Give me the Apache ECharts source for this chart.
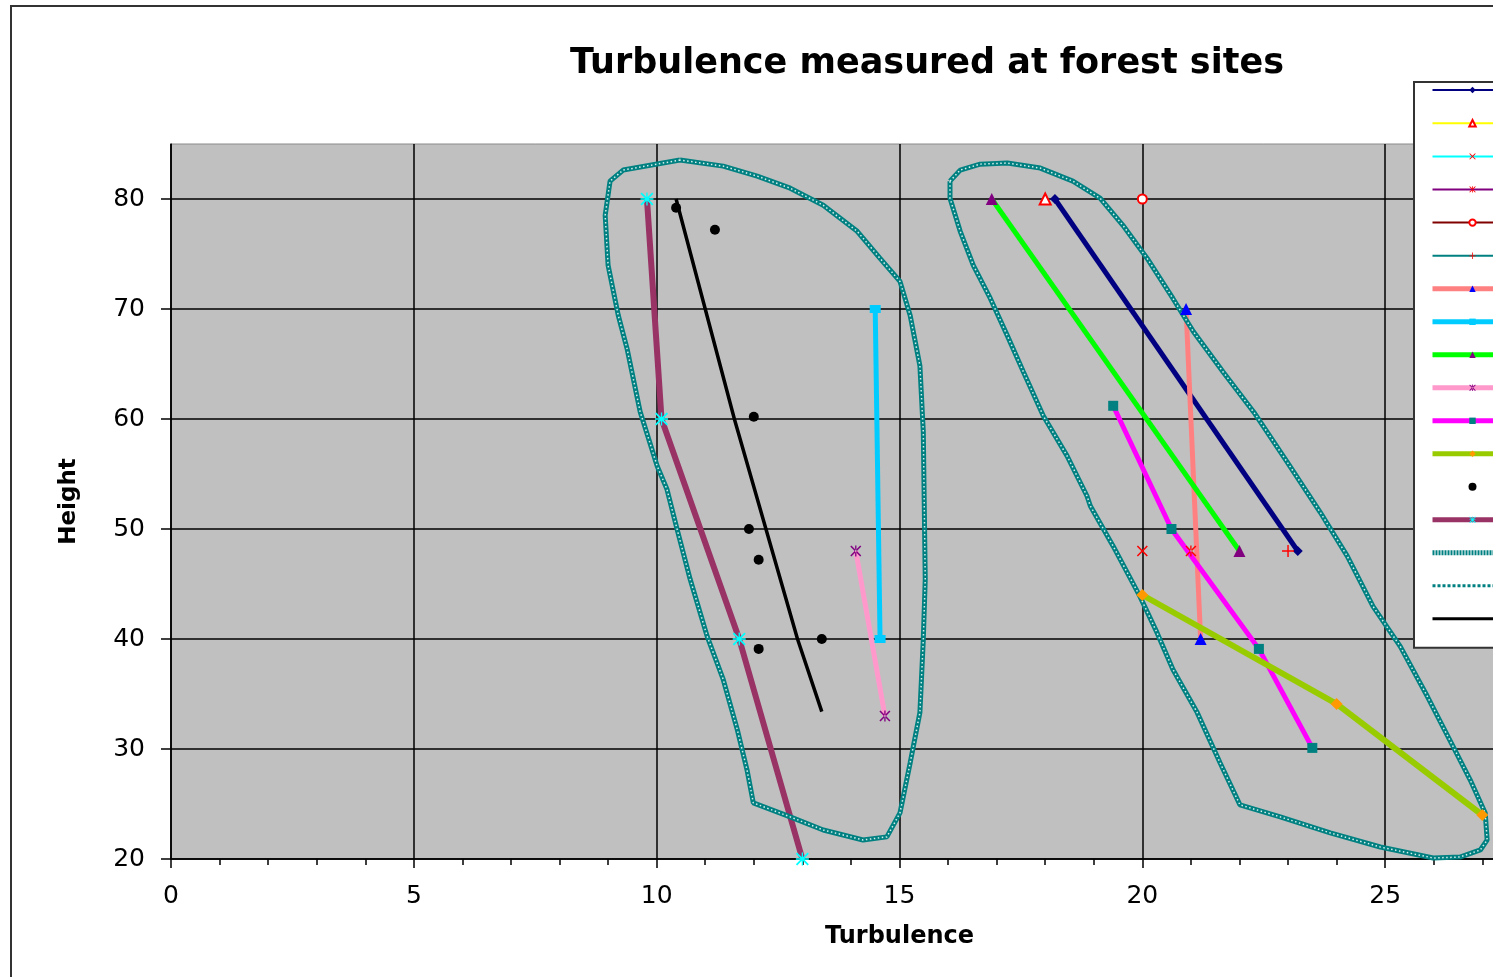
<!DOCTYPE html>
<html>
<head>
<meta charset="utf-8">
<title>Turbulence measured at forest sites</title>
<script src="https://cdn.jsdelivr.net/npm/echarts@6/dist/echarts.min.js"></script>
<style>
  html, body { margin: 0; padding: 0; overflow: hidden; background: #fff; }
  #frame { position: absolute; left: 10px; top: 5px; width: 1800px; height: 1200px; border: 2px solid #333; }
  #chart { position: absolute; left: 0; top: 0; width: 1720px; height: 1000px; }
</style>
</head>
<body>
<div id="frame"></div>
<div id="chart"></div>
<script>
// axis ticks
const xTicks = [0, 5, 10, 15, 20, 25, 30];
const yTicks = [20, 30, 40, 50, 60, 70, 80];

// series names (legend text is cut off in the picture)
const names = ['Site 1', 'Site 2', 'Site 3', 'Site 4', 'Site 5', 'Site 6', 'Site 7', 'Site 8',
  'Site 9', 'Site 10', 'Site 11', 'Site 12', 'Site 13', 'Site 14', 'Site 15', 'Site 16', 'Site 17'];

// [turbulence, height]
const s1 = [[18.2, 80], [23.2, 48]];
const s2 = [[18, 80]];
const s3 = [[20, 48]];
const s4 = [[21, 48]];
const s5 = [[20, 80]];
const s6 = [[23, 48]];
const s7 = [[20.9, 70], [21.2, 40]];
const s8 = [[14.5, 70], [14.6, 40]];
const s9 = [[16.9, 80], [22, 48]];
const s10 = [[14.1, 48], [14.7, 33]];
const s11 = [[19.4, 61.2], [20.6, 50], [22.4, 39.1], [23.5, 30.1]];
const s12 = [[20, 44], [24, 34.1], [27, 24]];
const s13 = [[10.4, 79.2], [11.2, 77.2], [12, 60.2], [11.9, 50], [12.1, 47.2], [13.4, 40], [12.1, 39.1]];
const s14 = [[9.8, 80], [10.1, 60], [11.7, 40], [13, 20]];
// envelope around the left group
const s15 = [[10.48, 83.54], [9.31, 82.63], [9.04, 81.62], [8.94, 78.52], [9.0, 73.97], [9.21, 69.41],
  [9.39, 66.4], [9.66, 60.66], [10.01, 55.73], [10.21, 53.64], [10.42, 49.99], [10.69, 45.43],
  [11.04, 40.24], [11.37, 36.32], [11.66, 31.76], [11.86, 28.11], [11.99, 25.1], [12.75, 23.83],
  [13.43, 22.64], [14.25, 21.73], [14.74, 22.01], [15.01, 24.19], [15.22, 28.75], [15.42, 33.31],
  [15.49, 39.96], [15.53, 45.43], [15.49, 58.83], [15.42, 64.85], [15.22, 69.41], [15.01, 72.51],
  [14.6, 74.6], [14.13, 77.06], [13.43, 79.43], [12.75, 80.98], [12.07, 82.08], [11.37, 82.99],
  [10.48, 83.54]];
// envelope around the right group
const s16 = [[16.04, 81.62], [16.25, 82.63], [16.66, 83.17], [17.22, 83.27], [17.9, 82.81], [18.57, 81.62],
  [19.13, 80.07], [19.6, 77.61], [20.1, 74.6], [20.63, 70.96], [21.05, 67.95], [21.66, 64.3],
  [22.32, 60.47], [22.98, 56.1], [23.66, 51.54], [24.22, 47.53], [24.75, 42.97], [25.31, 39.33],
  [25.87, 34.77], [26.4, 30.21], [26.75, 27.2], [27.06, 24.19], [27.1, 21.73], [26.96, 20.82],
  [26.54, 20.18], [25.99, 20.09], [24.9, 21.09], [23.87, 22.37], [22.84, 23.83], [22.01, 24.92],
  [21.6, 28.75], [21.13, 33.31], [20.63, 37.23], [20.3, 40.6], [19.95, 43.88], [19.4, 48.44],
  [18.93, 52.09], [18.86, 53.0], [18.45, 56.65], [17.96, 60.29], [17.55, 64.3], [17.22, 67.58],
  [16.87, 70.96], [16.52, 73.97], [16.25, 77.06], [16.04, 80.07], [16.04, 81.62]];
const s17 = [[10.4, 80], [11.6, 60], [12.9, 40], [13.4, 33.4]];

const X_MARK = 'path://M0,1L1,0L5,4L9,0L10,1L6,5L10,9L9,10L5,6L1,10L0,9L4,5Z';
const PLUS_MARK = 'path://M4.4,0H5.6V4.4H10V5.6H5.6V10H4.4V5.6H0V4.4H4.4Z';
const STAR_MARK = 'path://M0,1L1,0L5,4L9,0L10,1L6,5L10,9L9,10L5,6L1,10L0,9L4,5ZM4.4,10H5.6V0H4.4Z';
const STAR8_MARK = 'path://M0,1L1,0L5,4L9,0L10,1L6,5L10,9L9,10L5,6L1,10L0,9L4,5ZM4.5,0H5.5V4.5H10V5.5H5.5V10H4.5V5.5H0V4.5H4.5Z';

function lineSeries(name, data, color, width, symbol, symbolSize, markColor, extra) {
  return Object.assign({
    name: name,
    type: 'line',
    data: data,
    symbol: symbol,
    symbolSize: symbolSize,
    showAllSymbol: true,
    lineStyle: { color: color, width: width },
    itemStyle: { color: markColor, borderColor: markColor, borderWidth: 0 },
    emphasis: { disabled: true },
    animation: false
  }, extra || {});
}

const chart = echarts.init(document.getElementById('chart'));

const series = [
  lineSeries(names[0], s1, '#000080', 5, 'diamond', 10, '#000080'),
  lineSeries(names[1], s2, '#FFFF00', 2, 'emptyTriangle', 11, '#FF0000', { itemStyle: { color: '#FF0000', borderWidth: 1.5 } }),
  lineSeries(names[2], s3, '#00FFFF', 2, X_MARK, 11, '#FF0000'),
  lineSeries(names[3], s4, '#800080', 2, STAR_MARK, 11, '#FF0000'),
  lineSeries(names[4], s5, '#800000', 2, 'emptyCircle', 9, '#FF0000', { itemStyle: { color: '#FF0000', borderWidth: 1.5 } }),
  lineSeries(names[5], s6, '#008080', 2, PLUS_MARK, 12, '#FF0000'),
  lineSeries(names[6], s7, '#FF8080', 5, 'triangle', 12, '#0000FF'),
  lineSeries(names[7], s8, '#00CCFF', 5, 'rect', [11, 8], '#00CCFF'),
  lineSeries(names[8], s9, '#00FF00', 5, 'triangle', 12, '#800080'),
  lineSeries(names[9], s10, '#FF99CC', 5, STAR_MARK, 11, '#800080'),
  lineSeries(names[10], s11, '#FF00FF', 5, 'rect', 10, '#008080'),
  lineSeries(names[11], s12, '#99CC00', 6, 'diamond', 12, '#FF9900'),
  {
    name: names[12], type: 'scatter', data: s13, symbol: 'circle', symbolSize: 10,
    itemStyle: { color: '#000000', opacity: 1 }, emphasis: { disabled: true }, animation: false
  },
  lineSeries(names[13], s14, '#993366', 6, STAR8_MARK, 13, '#00FFFF'),
  lineSeries(names[14], s15, '#008080', 5, 'none', 0, '#008080'),
  {
    name: 'edge15', type: 'line', data: s15, symbol: 'none', silent: true, animation: false,
    lineStyle: { color: 'rgba(225,245,245,0.95)', width: 1.5, type: [1.5, 2.5] }
  },
  lineSeries(names[15], s16, '#008080', 5, 'none', 0, '#008080'),
  {
    name: 'edge16', type: 'line', data: s16, symbol: 'none', silent: true, animation: false,
    lineStyle: { color: 'rgba(225,245,245,0.95)', width: 1.5, type: [1.5, 2.5] }
  },
  lineSeries(names[16], s17, '#000000', 3.5, 'none', 0, '#000000')
];

const legendWidths = [2, 2, 2, 2, 2, 2, 5, 5, 5, 5, 5, 5, 0, 5, 5, 3, 3];
const legendData = names.map(function (n, i) {
  const item = { name: n };
  if (i !== 12) item.lineStyle = { width: legendWidths[i] };
  if (i === 14) item.lineStyle.type = [2, 1];
  if (i === 15) item.lineStyle.type = [3, 2];
  if (i >= 14) item.itemStyle = { opacity: 0 };
  return item;
});

const option = {
  animation: false,
  title: {
    text: 'Turbulence measured at forest sites',
    left: 922,
    top: 41,
    textAlign: 'center',
    textStyle: { fontFamily: 'DejaVu Sans', fontWeight: 'bold', fontSize: 35, color: '#000' }
  },
  legend: {
    orient: 'vertical',
    left: 1414,
    top: 82,
    padding: [4, 10, 25, 16],
    itemWidth: 80,
    itemHeight: 8,
    itemGap: 25,
    backgroundColor: '#fff',
    borderColor: '#333',
    borderWidth: 2,
    borderRadius: 0,
    selectedMode: false,
    data: legendData,
    textStyle: { fontFamily: 'DejaVu Sans', fontSize: 8, color: '#000' }
  },
  grid: {
    left: 171,
    top: 144,
    width: 1457,
    height: 715,
    show: true,
    backgroundColor: '#C0C0C0',
    borderColor: '#8a8a8a',
    borderWidth: 1
  },
  xAxis: {
    type: 'value',
    min: xTicks[0],
    max: xTicks[xTicks.length - 1],
    interval: 5,
    name: 'Turbulence',
    nameLocation: 'middle',
    nameGap: 66,
    nameTextStyle: { fontFamily: 'DejaVu Sans', fontWeight: 'bold', fontSize: 24, color: '#000' },
    axisLine: { show: true, onZero: false, lineStyle: { color: '#000', width: 1.5 } },
    axisTick: { show: true, length: 9, lineStyle: { color: '#000', width: 1.5 } },
    minorTick: { show: true, splitNumber: 5, length: 6, lineStyle: { color: '#000', width: 1.5 } },
    axisLabel: { margin: 25, fontFamily: 'DejaVu Sans', fontSize: 25, color: '#000' },
    splitLine: { show: true, showMaxLine: false, lineStyle: { color: '#000', width: 1.5 } }
  },
  yAxis: {
    type: 'value',
    min: yTicks[0],
    max: 85,
    interval: 10,
    name: 'Height',
    nameLocation: 'middle',
    nameGap: 90,
    nameTextStyle: { fontFamily: 'DejaVu Sans', fontWeight: 'bold', fontSize: 23, color: '#000' },
    axisLine: { show: true, onZero: false, lineStyle: { color: '#000', width: 1.5 } },
    axisTick: { show: true, length: 10, lineStyle: { color: '#000', width: 1.5 } },
    axisLabel: { margin: 26, showMaxLabel: false, fontFamily: 'DejaVu Sans', fontSize: 25, color: '#000' },
    splitLine: { show: true, showMaxLine: false, lineStyle: { color: '#000', width: 1.5 } }
  },
  series: series
};

chart.setOption(option);
</script>
</body>
</html>
